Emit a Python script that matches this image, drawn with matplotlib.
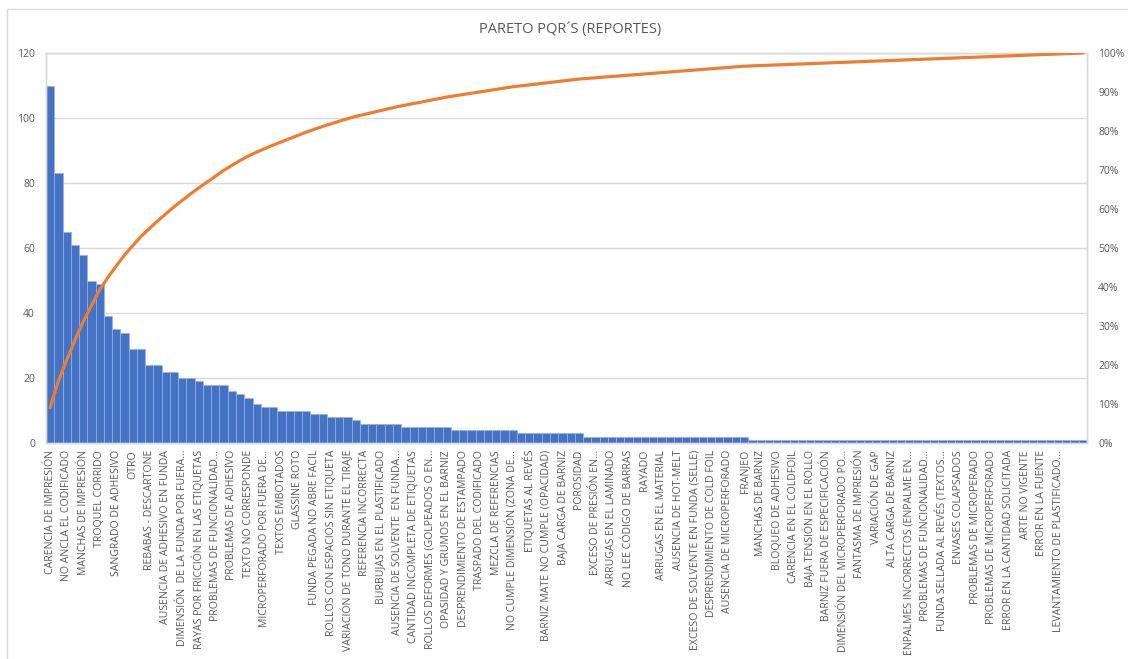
import numpy as np
import matplotlib
matplotlib.use("Agg")
import matplotlib.pyplot as plt
from matplotlib.patches import Rectangle
from matplotlib.ticker import FuncFormatter

# ---- data ----
counts = ([110, 83, 65, 61, 58, 50, 49, 39, 35, 34,
           29, 29, 24, 24, 22, 22, 20, 20, 19, 18,
           18, 18, 16, 15, 14, 12, 11, 11, 10, 10,
           10, 10, 9, 9, 8, 8, 8, 7, 6, 6,
           6, 6, 6] + [5] * 6 + [4] * 8 + [3] * 8 + [2] * 20 + [1] * 41)

shown_labels = [
    "CARENCIA DE IMPRESIÓN", "NO ANCLA EL CODIFICADO", "MANCHAS DE IMPRESIÓN",
    "TROQUEL CORRIDO", "SANGRADO DE ADHESIVO", "OTRO", "REBABAS - DESCARTONE",
    "AUSENCIA DE ADHESIVO EN FUNDA", "DIMENSIÓN  DE LA FUNDA POR FUERA...",
    "RAYAS POR FRICCIÓN EN LAS ETIQUETAS", "PROBLEMAS DE FUNCIONALIDAD...",
    "PROBLEMAS DE ADHESIVO", "TEXTO NO CORRESPONDE", "MICROPERFORADO POR FUERA DE...",
    "TEXTOS EMBOTADOS", "GLASSINE ROTO", "FUNDA PEGADA NO ABRE FACIL",
    "ROLLOS CON ESPACIOS SIN ETIQUETA", "VARIACIÓN DE TONO DURANTE EL TIRAJE",
    "REFERENCIA INCORRECTA", "BURBUJAS EN EL PLASTIFICADO",
    "AUSENCIA DE SOLVENTE  EN FUNDA...", "CANTIDAD INCOMPLETA DE ETIQUETAS",
    "ROLLOS DEFORMES (GOLPEADOS O EN...", "OPASIDAD Y GRUMOS EN EL BARNIZ",
    "DESPRENDIMIENTO DE ESTAMPADO", "TRASPADO DEL CODIFICADO", "MEZCLA DE REFERENCIAS",
    "NO CUMPLE DIMENSIÓN (ZONA DE...", "ETIQUETAS AL REVÉS",
    "BARNIZ MATE NO CUMPLE (OPACIDAD)", "BAJA CARGA DE BARNIZ", "POROSIDAD",
    "EXCESO DE PRESIÓN EN...", "ARRUGAS EN EL LAMINADO", "NO LEE CÓDIGO DE BARRAS",
    "RAYADO", "ARRUGAS EN EL MATERIAL", "AUSENCIA DE HOT-MELT",
    "EXCESO DE SOLVENTE EN FUNDA (SELLE)", "DESPRENDIMIENTO DE COLD FOIL",
    "AUSENCIA DE MICROPERFORADO", "FRANJEO", "MANCHAS DE BARNIZ", "BLOQUEO DE ADHESIVO",
    "CARENCIA EN EL COLDFOIL", "BAJA TENSIÓN EN EL ROLLO",
    "BARNIZ FUERA DE ESPECIFICACIÓN", "DIMENSIÓN DEL MICROPERFORADO PO...",
    "FANTASMA DE IMPRESIÓN", "VARIACIÓN DE GAP", "ALTA CARGA DE BARNIZ",
    "ENPALMES INCORRECTOS (ENPALME EN...", "PROBLEMAS DE FUNCIONALIDAD...",
    "FUNDA SELLADA AL REVÉS (TEXTOS...", "ENVASES COLAPSADOS",
    "PROBLEMAS DE MICROPERADO", "PROBLEMAS DE MICROPERFORADO",
    "ERROR EN LA CANTIDAD SOLICITADA", "ARTE NO VIGENTE", "ERROR EN LA FUENTE",
    "LEVANTAMIENTO DE PLASTIFICADO...",
]

title = "PARETO PQR´S (REPORTES)"
y_ticks = [0, 20, 40, 60, 80, 100, 120]
pct_ticks = [0, 0.1, 0.2, 0.3, 0.4, 0.5, 0.6, 0.7, 0.8, 0.9, 1.0]

# ---- style ----
plt.rcParams['font.family'] = ['Open Sans', 'DejaVu Sans']
txt = '#595959'
grid = '#d9d9d9'
bar_c = '#4472C4'
line_c = '#ED7D31'

W, H = 1128, 659
fig = plt.figure(figsize=(W / 100, H / 100), dpi=100)
fig.patches.append(Rectangle((7 / W, -0.05), 1.1, 1 - 9 / H + 0.05,
                             transform=fig.transFigure, fill=False,
                             edgecolor=grid, linewidth=1.0))

left, right, top, bottom = 46, 1087, 53, 443
ax = fig.add_axes([left / W, 1 - bottom / H, (right - left) / W, (bottom - top) / H])

x = np.arange(len(counts))
ax.bar(x, counts, width=1.0, color=bar_c, edgecolor='#9db3e0', linewidth=0.5, zorder=2)
ax.set_xlim(-0.5, len(counts) - 0.5)
ax.set_ylim(0, 120)
ax.set_yticks(y_ticks)
ax.yaxis.grid(True, color=grid, linewidth=1.0, zorder=0)
ax.set_axisbelow(True)
ax.tick_params(axis='y', length=0, labelsize=7.5, labelcolor=txt, pad=8)

tick_pos = np.arange(0, 2 * len(shown_labels), 2)
ax.set_xticks(tick_pos)
ax.set_xticklabels(shown_labels, rotation=90, ha='center', va='top',
                   fontsize=7.6, color=txt)
ax.tick_params(axis='x', length=0, pad=5)
for s in ax.spines.values():
    s.set_color(grid)
    s.set_linewidth(1.0)

ax2 = ax.twinx()
cum = np.cumsum(counts) / np.sum(counts)
ax2.plot(x, cum, color=line_c, linewidth=2.3, solid_capstyle='round', zorder=3)
ax2.set_ylim(0, 1)
ax2.set_yticks(pct_ticks)
ax2.yaxis.set_major_formatter(FuncFormatter(lambda v, p: f"{v:.0%}"))
ax2.tick_params(axis='y', length=0, labelsize=7.5, labelcolor=txt, pad=8)
for s in ax2.spines.values():
    s.set_color(grid)
    s.set_linewidth(1.0)

fig.text(0.505, 1 - 30 / H, title, ha='center', va='center', fontsize=10.5, color=txt)

fig.savefig('out.png', dpi=100)
